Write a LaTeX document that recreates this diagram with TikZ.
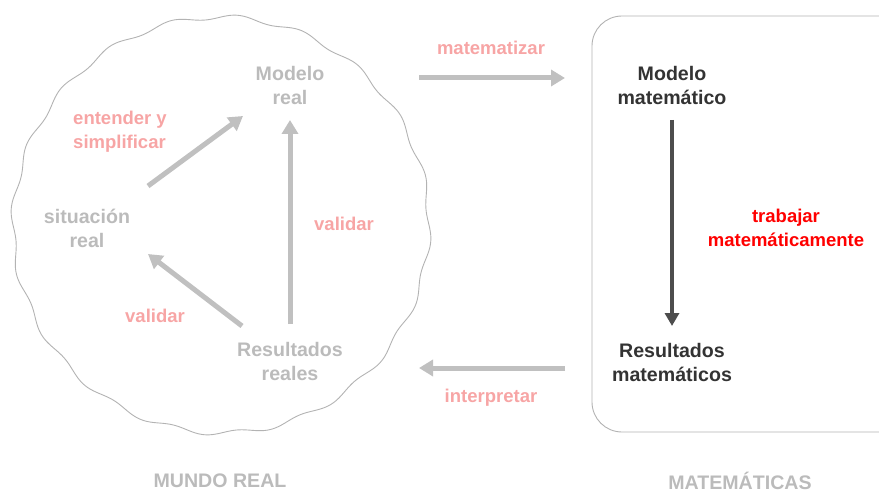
\documentclass[tikz,border=0pt]{standalone}
\usepackage{fontspec}
\setmainfont{Liberation Sans}
\usetikzlibrary{arrows.meta}
\definecolor{lgray}{HTML}{BBBBBB}
\definecolor{agray}{HTML}{C0C0C0}
\definecolor{lpink}{HTML}{F7A5A5}
\definecolor{dtext}{HTML}{333333}
\definecolor{darrow}{HTML}{4D4D4D}
\definecolor{bred}{HTML}{FF0000}
\definecolor{outl}{HTML}{B3B3B3}
\tikzset{
  txt/.style={font=\bfseries\fontsize{18.5}{24}\selectfont, align=center, inner sep=0pt},
  bigtxt/.style={font=\bfseries\fontsize{19.6}{24}\selectfont, align=center, inner sep=0pt},
  gtxt/.style={bigtxt, text=lgray},
  ptxt/.style={txt, text=lpink},
  dtxt/.style={bigtxt, text=dtext},
  garrow/.style={draw=agray, line width=5pt, -{Triangle[length=14pt,width=16pt]}},
  darr/.style={draw=darrow, line width=4pt, -{Triangle[length=13pt,width=14pt]}},
  outline/.style={draw=outl, line width=0.9pt}
}
\begin{document}
\begin{tikzpicture}[x=1pt,y=-1pt]
\useasboundingbox (0,0) rectangle (879,492);
% wavy world
\draw[outline] plot[domain=0:360, samples=600, smooth cycle, variable=\t]
  ({221+(208+2.4*sin(20*\t))*cos(\t)}, {225+(208+2.4*sin(20*\t))*sin(\t)});
% math box
\draw[outline, rounded corners=30pt] (592,16) rectangle (910,432);

% nodes
\node[gtxt] (mr) at (290,85) {Modelo\\real};
\node[gtxt] (sr) at (87,228) {situación\\real};
\node[gtxt] (rr) at (290,361) {Resultados\\reales};
\node[ptxt, align=left] (es) at (120,132) {entender y\\simplificar};
\node[ptxt] (v1) at (344,224) {validar};
\node[ptxt] (v2) at (155,316) {validar};
\node[ptxt] (mz) at (491,48) {matematizar};
\node[ptxt] (ip) at (491,398) {interpretar};
\node[dtxt] (mm) at (672,85) {Modelo\\matemático};
\node[dtxt] (rm) at (672,362) {Resultados\\matemáticos};
\node[txt, text=bred] (tm) at (786,228) {trabajar\\matemáticamente};
\node[gtxt] (mw) at (220,481) {MUNDO REAL};
\node[gtxt] (ma) at (740,481) {MATEMÁTICAS};

% arrow endpoints
\coordinate (a1s) at (148,186); \coordinate (a1e) at (243,116);
\coordinate (a2s) at (290,324); \coordinate (a2e) at (290,120);
\coordinate (a3s) at (242,326); \coordinate (a3e) at (148,254);
\coordinate (a4s) at (419,78);  \coordinate (a4e) at (565,78);
\coordinate (a5s) at (565,368); \coordinate (a5e) at (419,368);
\coordinate (a6s) at (672,120); \coordinate (a6e) at (672,326);

\draw[garrow] (a1s) -- (a1e);
\draw[garrow] (a2s) -- (a2e);
\draw[garrow] (a3s) -- (a3e);
\draw[garrow] (a4s) -- (a4e);
\draw[garrow] (a5s) -- (a5e);
\draw[darr] (a6s) -- (a6e);
\end{tikzpicture}
\end{document}
